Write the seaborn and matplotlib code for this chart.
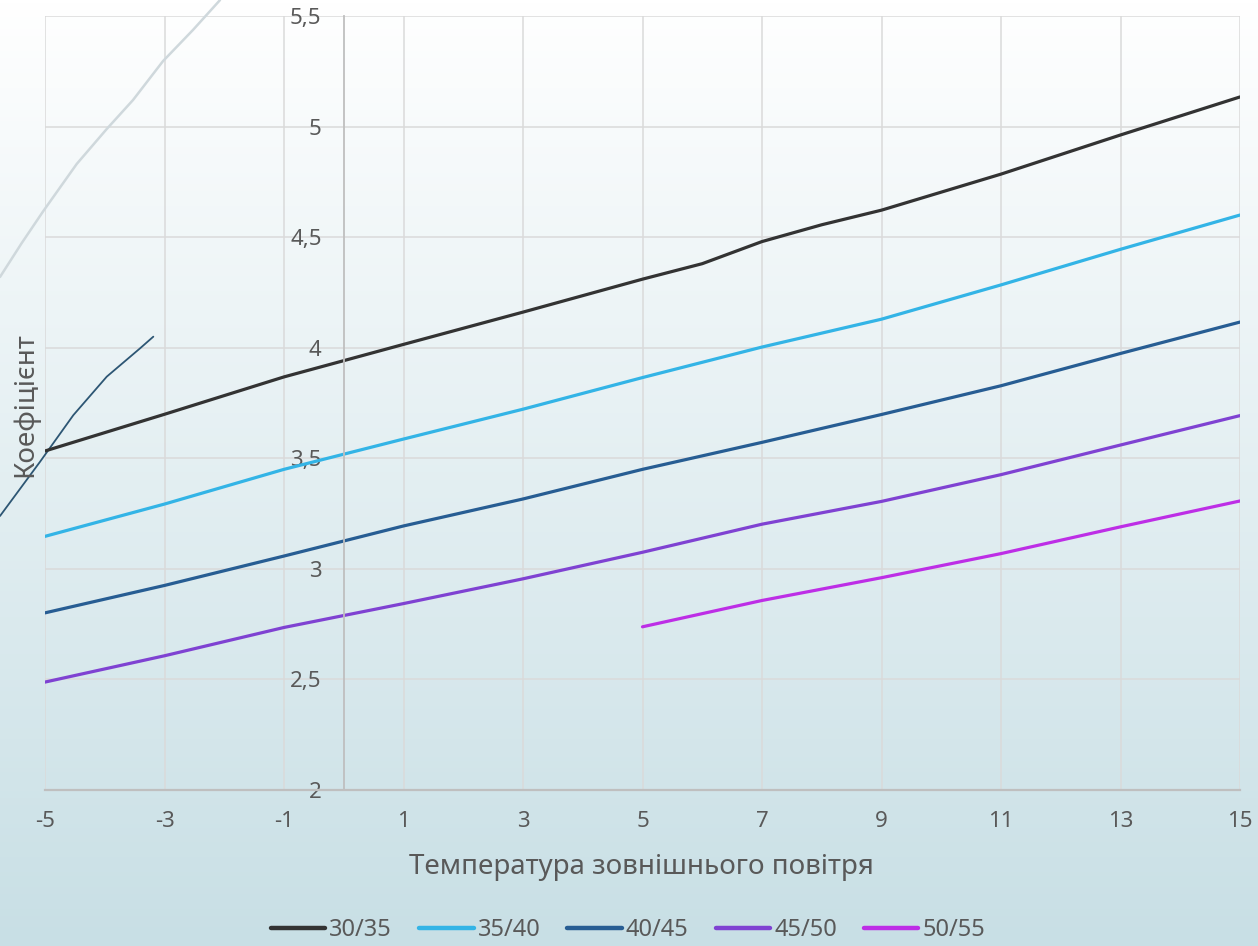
import matplotlib
matplotlib.use('Agg')
import matplotlib.pyplot as plt
import seaborn as sns
import pandas as pd
import numpy as np
from matplotlib.colors import LinearSegmentedColormap

# Datos
temperatura = [-5, -3, -1, 1, 3, 5, 7, 9, 11, 13, 15]
temperatura_30_35 = [-5, -3, -1, 1, 3, 5, 6, 7, 8, 9, 11, 13, 15]
serie_30_35 = [3.533, 3.699, 3.868, 4.015, 4.161, 4.31, 4.38, 4.48, 4.556, 4.622, 4.785, 4.962, 5.134]
serie_35_40 = [3.147, 3.293, 3.45, 3.587, 3.722, 3.865, 4.003, 4.129, 4.284, 4.445, 4.60]
serie_40_45 = [2.801, 2.925, 3.058, 3.194, 3.316, 3.45, 3.572, 3.698, 3.828, 3.974, 4.116]
serie_45_50 = [2.488, 2.607, 2.735, 2.843, 2.955, 3.075, 3.202, 3.305, 3.426, 3.560, 3.693]
temperatura_50_55 = [5, 7, 9, 11, 13, 15]
serie_50_55 = [2.738, 2.857, 2.96, 3.069, 3.19, 3.307]
etiquetas = ['30/35', '35/40', '40/45', '45/50', '50/55']
colores = ['#333333', '#33b4e6', '#275d93', '#7f42d2', '#bd2ee6']

# Curvas sueltas que asoman por la izquierda
gris_x = [-5.753, -5.39, -5.028, -4.469, -3.967, -3.527, -3.025, -2.523, -2.071]
gris_y = [4.32, 4.473, 4.618, 4.831, 4.989, 5.12, 5.296, 5.437, 5.572]
azul_x = [-5.753, -5.084, -4.526, -3.967, -3.41, -3.187]
azul_y = [3.239, 3.484, 3.695, 3.869, 3.997, 4.05]

ejes_x = [temperatura_30_35, temperatura, temperatura, temperatura, temperatura_50_55]
series = [serie_30_35, serie_35_40, serie_40_45, serie_45_50, serie_50_55]
filas = []
for nombre, xs, valores in zip(etiquetas, ejes_x, series):
    for t, v in zip(xs, valores):
        filas.append({'Температура': t, 'Коефіцієнт': v, 'Серія': nombre})
df = pd.DataFrame(filas)

sns.set_style('white')
plt.rcParams['font.family'] = ['Noto Sans', 'DejaVu Sans']
plt.rcParams['axes.unicode_minus'] = False
gris_texto = '#595959'

fig = plt.figure(figsize=(12.58, 9.46), dpi=100)

# Fondo degradado
fondo = fig.add_axes([0, 0, 1, 1], zorder=-10)
cmap = LinearSegmentedColormap.from_list('fondo', ['#ffffff', '#c8dfe5'])
fondo.imshow(np.linspace(0, 1, 256).reshape(-1, 1), aspect='auto', cmap=cmap,
             extent=[0, 1, 0, 1])
fondo.axis('off')

ax = fig.add_axes([45 / 1258, 1 - 790 / 946, 1195 / 1258, 774 / 946])
ax.set_facecolor('none')

sns.lineplot(data=df, x='Температура', y='Коефіцієнт', hue='Серія',
             hue_order=etiquetas, palette=colores, linewidth=2.3, ax=ax)

ax.plot(gris_x, gris_y, color='#cfd8dc', linewidth=1.8, clip_on=False, zorder=1)
ax.plot(azul_x, azul_y, color='#2d5674', linewidth=1.3, clip_on=False, zorder=1)

ax.set_xlim(-5, 15)
ax.set_ylim(2, 5.5)
ax.set_xticks(np.arange(-5, 16, 2))
ax.set_yticks(np.arange(2, 5.51, 0.5))
ax.set_yticklabels([f'{v:g}'.replace('.', ',') for v in np.arange(2, 5.51, 0.5)])
ax.grid(True, color='#dadada', linewidth=1.1)

for lado in ['top', 'right']:
    ax.spines[lado].set_visible(False)
ax.spines['left'].set_position(('data', 0))
ax.spines['left'].set_color('#bfbfbf')
ax.spines['bottom'].set_color('#bfbfbf')
ax.spines['left'].set_linewidth(1.3)
ax.spines['bottom'].set_linewidth(1.6)
ax.tick_params(axis='x', length=0, pad=15, labelsize=16, labelcolor=gris_texto)
ax.tick_params(axis='y', length=0, pad=16, labelsize=16, labelcolor=gris_texto)

ax.set_xlabel('')
ax.set_ylabel('')
fig.text(641 / 1258, 1 - 874 / 946, 'Температура зовнішнього повітря',
         ha='center', va='baseline', fontsize=20, color=gris_texto)
fig.text(25 / 1258, 1 - 405 / 946, 'Коефіцієнт', rotation=90,
         ha='center', va='center', fontsize=20, color=gris_texto)

sns.move_legend(ax, 'center', bbox_to_anchor=((628 - 45) / 1195, (790 - 930) / 774),
                ncol=5, frameon=False, title=None, fontsize=17,
                handlelength=2.3, handletextpad=0.17, columnspacing=1.15,
                labelcolor=gris_texto)
for linea in ax.get_legend().get_lines():
    linea.set_linewidth(3.2)

fig.savefig('out.png', dpi=100)
